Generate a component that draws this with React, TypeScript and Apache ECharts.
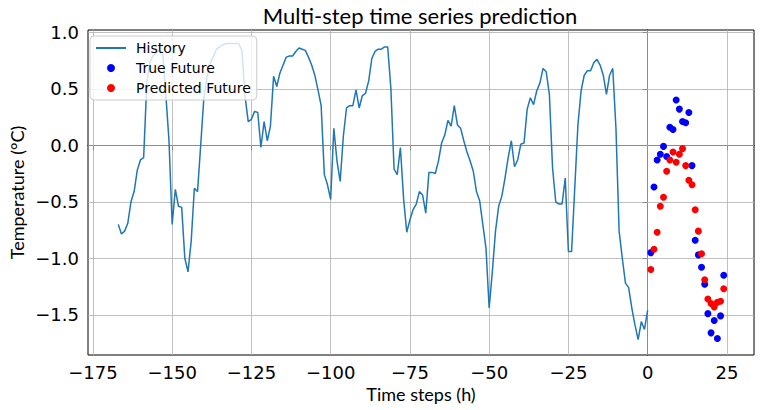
import React, { useEffect, useRef } from "react";
import * as echarts from "echarts";

// History: hourly temperature, time steps -167 .. 0
const HISTORY_START = -167;
const historyValues = [
  -0.70, -0.785, -0.76, -0.69, -0.50, -0.41, -0.22, -0.13, -0.11, 0.55,
  0.74, 0.79, 0.82, 0.84, 0.82, 0.45, 0.04, -0.70, -0.39, -0.54,
  -0.55, -1.00, -1.12, -0.85, -0.38, -0.41, 0.00, 0.42, 0.60, 0.72,
  0.79, 0.85, 0.87, 0.89, 0.90, 0.90, 0.90, 0.90, 0.90, 0.84,
  0.43, 0.21, 0.23, 0.30, 0.29, -0.02, 0.21, 0.04, 0.17, 0.61,
  0.52, 0.64, 0.71, 0.78, 0.79, 0.79, 0.83, 0.86, 0.85, 0.84,
  0.78, 0.71, 0.62, 0.49, 0.35, -0.26, -0.35, -0.48, 0.15, -0.14,
  -0.32, 0.08, 0.33, 0.35, 0.35, 0.49, 0.33, 0.44, 0.46, 0.57,
  0.77, 0.83, 0.85, 0.85, 0.87, 0.87, 0.50, -0.21, -0.26, -0.02,
  -0.47, -0.77, -0.66, -0.57, -0.52, -0.41, -0.44, -0.60, -0.24, -0.24,
  -0.25, -0.14, 0.02, 0.09, 0.22, 0.17, 0.35, 0.18, 0.15, 0.04,
  -0.06, -0.14, -0.23, -0.41, -0.49, -0.70, -0.91, -1.44, -1.12, -0.76,
  -0.54, -0.45, -0.29, -0.11, 0.04, -0.19, -0.13, 0.01, 0.02, 0.32,
  0.42, 0.36, 0.48, 0.55, 0.68, 0.65, 0.45, -0.20, -0.50, -0.52,
  -0.52, -0.29, -0.94, -0.94, -0.38, 0.18, 0.48, 0.62, 0.66, 0.66,
  0.73, 0.76, 0.71, 0.62, 0.45, 0.62, 0.68, 0.15, -0.76, -1.00,
  -1.22, -1.26, -1.44, -1.59, -1.72, -1.56, -1.63, -1.46,
];

const futureSteps = [1, 2, 3, 4, 5, 6, 7, 8, 9, 10, 11, 12, 13, 14, 15, 16, 17, 18, 19, 20, 21, 22, 23, 24];
const trueFuture = [
  -0.95, -0.37, -0.13, -0.08, -0.01, -0.10, 0.16, 0.14, 0.40, 0.32, 0.21, 0.20,
  0.29, -0.18, -0.84, -0.97, -1.08, -1.23, -1.49, -1.66, -1.55, -1.71, -1.51, -1.15,
];
const predictedFuture = [
  -1.10, -0.92, -0.77, -0.54, -0.46, -0.23, -0.13, -0.06, -0.15, -0.08, -0.03, -0.18,
  -0.31, -0.35, -0.57, -0.76, -0.96, -1.19, -1.36, -1.40, -1.43, -1.39, -1.38, -1.27,
];

const xTicks = [-175, -150, -125, -100, -75, -50, -25, 0, 25];
const yTicks = [-1.5, -1.0, -0.5, 0.0, 0.5, 1.0];

const X_MIN = -176.55;
const X_MAX = 33.55;
const Y_MIN = -1.856;
const Y_MAX = 1.02;

const minus = (s: string) => s.replace("-", "\u2212");

export default function App() {
  const ref = useRef<HTMLDivElement>(null);

  useEffect(() => {
    document.body.style.margin = "0";
    const chart = echarts.init(ref.current!, undefined, { renderer: "svg" });

    const historyData = historyValues.map((v, i) => [HISTORY_START + i, v]);
    const trueData = futureSteps.map((s, i) => [s, trueFuture[i]]);
    const predData = futureSteps.map((s, i) => [s, predictedFuture[i]]);

    const gridLines = [
      ...xTicks.map((v) => ({ xAxis: v })),
      ...yTicks.map((v) => ({ yAxis: v })),
    ];

    const tickFont = { fontFamily: "DejaVu Sans", fontSize: 18, color: "#000" };
    const nameFont = { fontFamily: "Lato", fontSize: 18, color: "#000" };

    chart.setOption({
      animation: false,
      backgroundColor: "#fff",
      title: {
        text: "Multi-step time series prediction",
        left: 420,
        top: 4,
        textAlign: "center",
        padding: 0,
        textStyle: { fontFamily: "Lato", fontSize: 22, fontWeight: "normal", color: "#000" },
      },
      grid: {
        left: 86,
        right: 7,
        top: 30,
        bottom: 55,
        show: true,
        borderColor: "#000",
        borderWidth: 1,
        backgroundColor: "transparent",
      },
      legend: {
        orient: "vertical",
        left: 90,
        top: 36,
        zlevel: 1,
        z: 20,
        padding: [5, 6, 5, 6],
        itemGap: 6,
        itemWidth: 30,
        itemHeight: 8,
        backgroundColor: "rgba(255,255,255,0.8)",
        borderColor: "#cccccc",
        borderWidth: 1,
        borderRadius: 4,
        selectedMode: false,
        textStyle: { fontFamily: "DejaVu Sans", fontSize: 14, color: "#000", padding: [0, 0, 0, 5] },
        data: [
          { name: "History", icon: "path://M0,0H30V2H0Z" },
          { name: "True Future", icon: "circle" },
          { name: "Predicted Future", icon: "circle" },
        ],
      },
      xAxis: {
        type: "value",
        min: X_MIN,
        max: X_MAX,
        name: "Time steps (h)",
        nameLocation: "middle",
        nameGap: 30,
        nameMoveOverlap: false,
        nameTextStyle: nameFont,
        axisLine: { show: true, lineStyle: { color: "#000", width: 1 } },
        axisTick: { show: true, customValues: xTicks, length: 5, lineStyle: { color: "#000", width: 1 } },
        axisLabel: {
          show: true,
          customValues: xTicks,
          margin: 8,
          ...tickFont,
          formatter: (v: number) => minus(String(v)),
        },
        splitLine: { show: false },
      },
      yAxis: {
        type: "value",
        min: Y_MIN,
        max: Y_MAX,
        name: "Temperature (\u00b0C)",
        nameLocation: "middle",
        nameGap: 62,
        nameMoveOverlap: false,
        nameTextStyle: nameFont,
        axisLine: { show: true, lineStyle: { color: "#000", width: 1 } },
        axisTick: { show: true, customValues: yTicks, length: 5, lineStyle: { color: "#000", width: 1 } },
        axisLabel: {
          show: true,
          customValues: yTicks,
          margin: 9,
          ...tickFont,
          formatter: (v: number) => minus(v.toFixed(1)),
        },
        splitLine: { show: false },
      },
      series: [
        {
          name: "History",
          type: "line",
          data: historyData,
          symbol: "none",
          showSymbol: false,
          lineStyle: { color: "#1f77b4", width: 1.5 },
          itemStyle: { color: "#1f77b4" },
          z: 2,
          markLine: {
            silent: true,
            z: 1,
            symbol: ["none", "none"],
            label: { show: false },
            lineStyle: { color: "#b0b0b0", width: 0.8, type: "solid" },
            emphasis: { disabled: true },
            data: gridLines,
          },
        },
        {
          name: "True Future",
          type: "scatter",
          data: trueData,
          symbol: "circle",
          symbolSize: 7,
          itemStyle: { color: "#0000ff", opacity: 1 },
          z: 3,
        },
        {
          name: "Predicted Future",
          type: "scatter",
          data: predData,
          symbol: "circle",
          symbolSize: 7,
          itemStyle: { color: "#ff0000", opacity: 1 },
          z: 4,
        },
      ],
    });

    return () => chart.dispose();
  }, []);

  return (
    <div
      ref={ref}
      style={{ position: "fixed", left: 0, top: 0, width: 761, height: 410, background: "#fff" }}
    />
  );
}
